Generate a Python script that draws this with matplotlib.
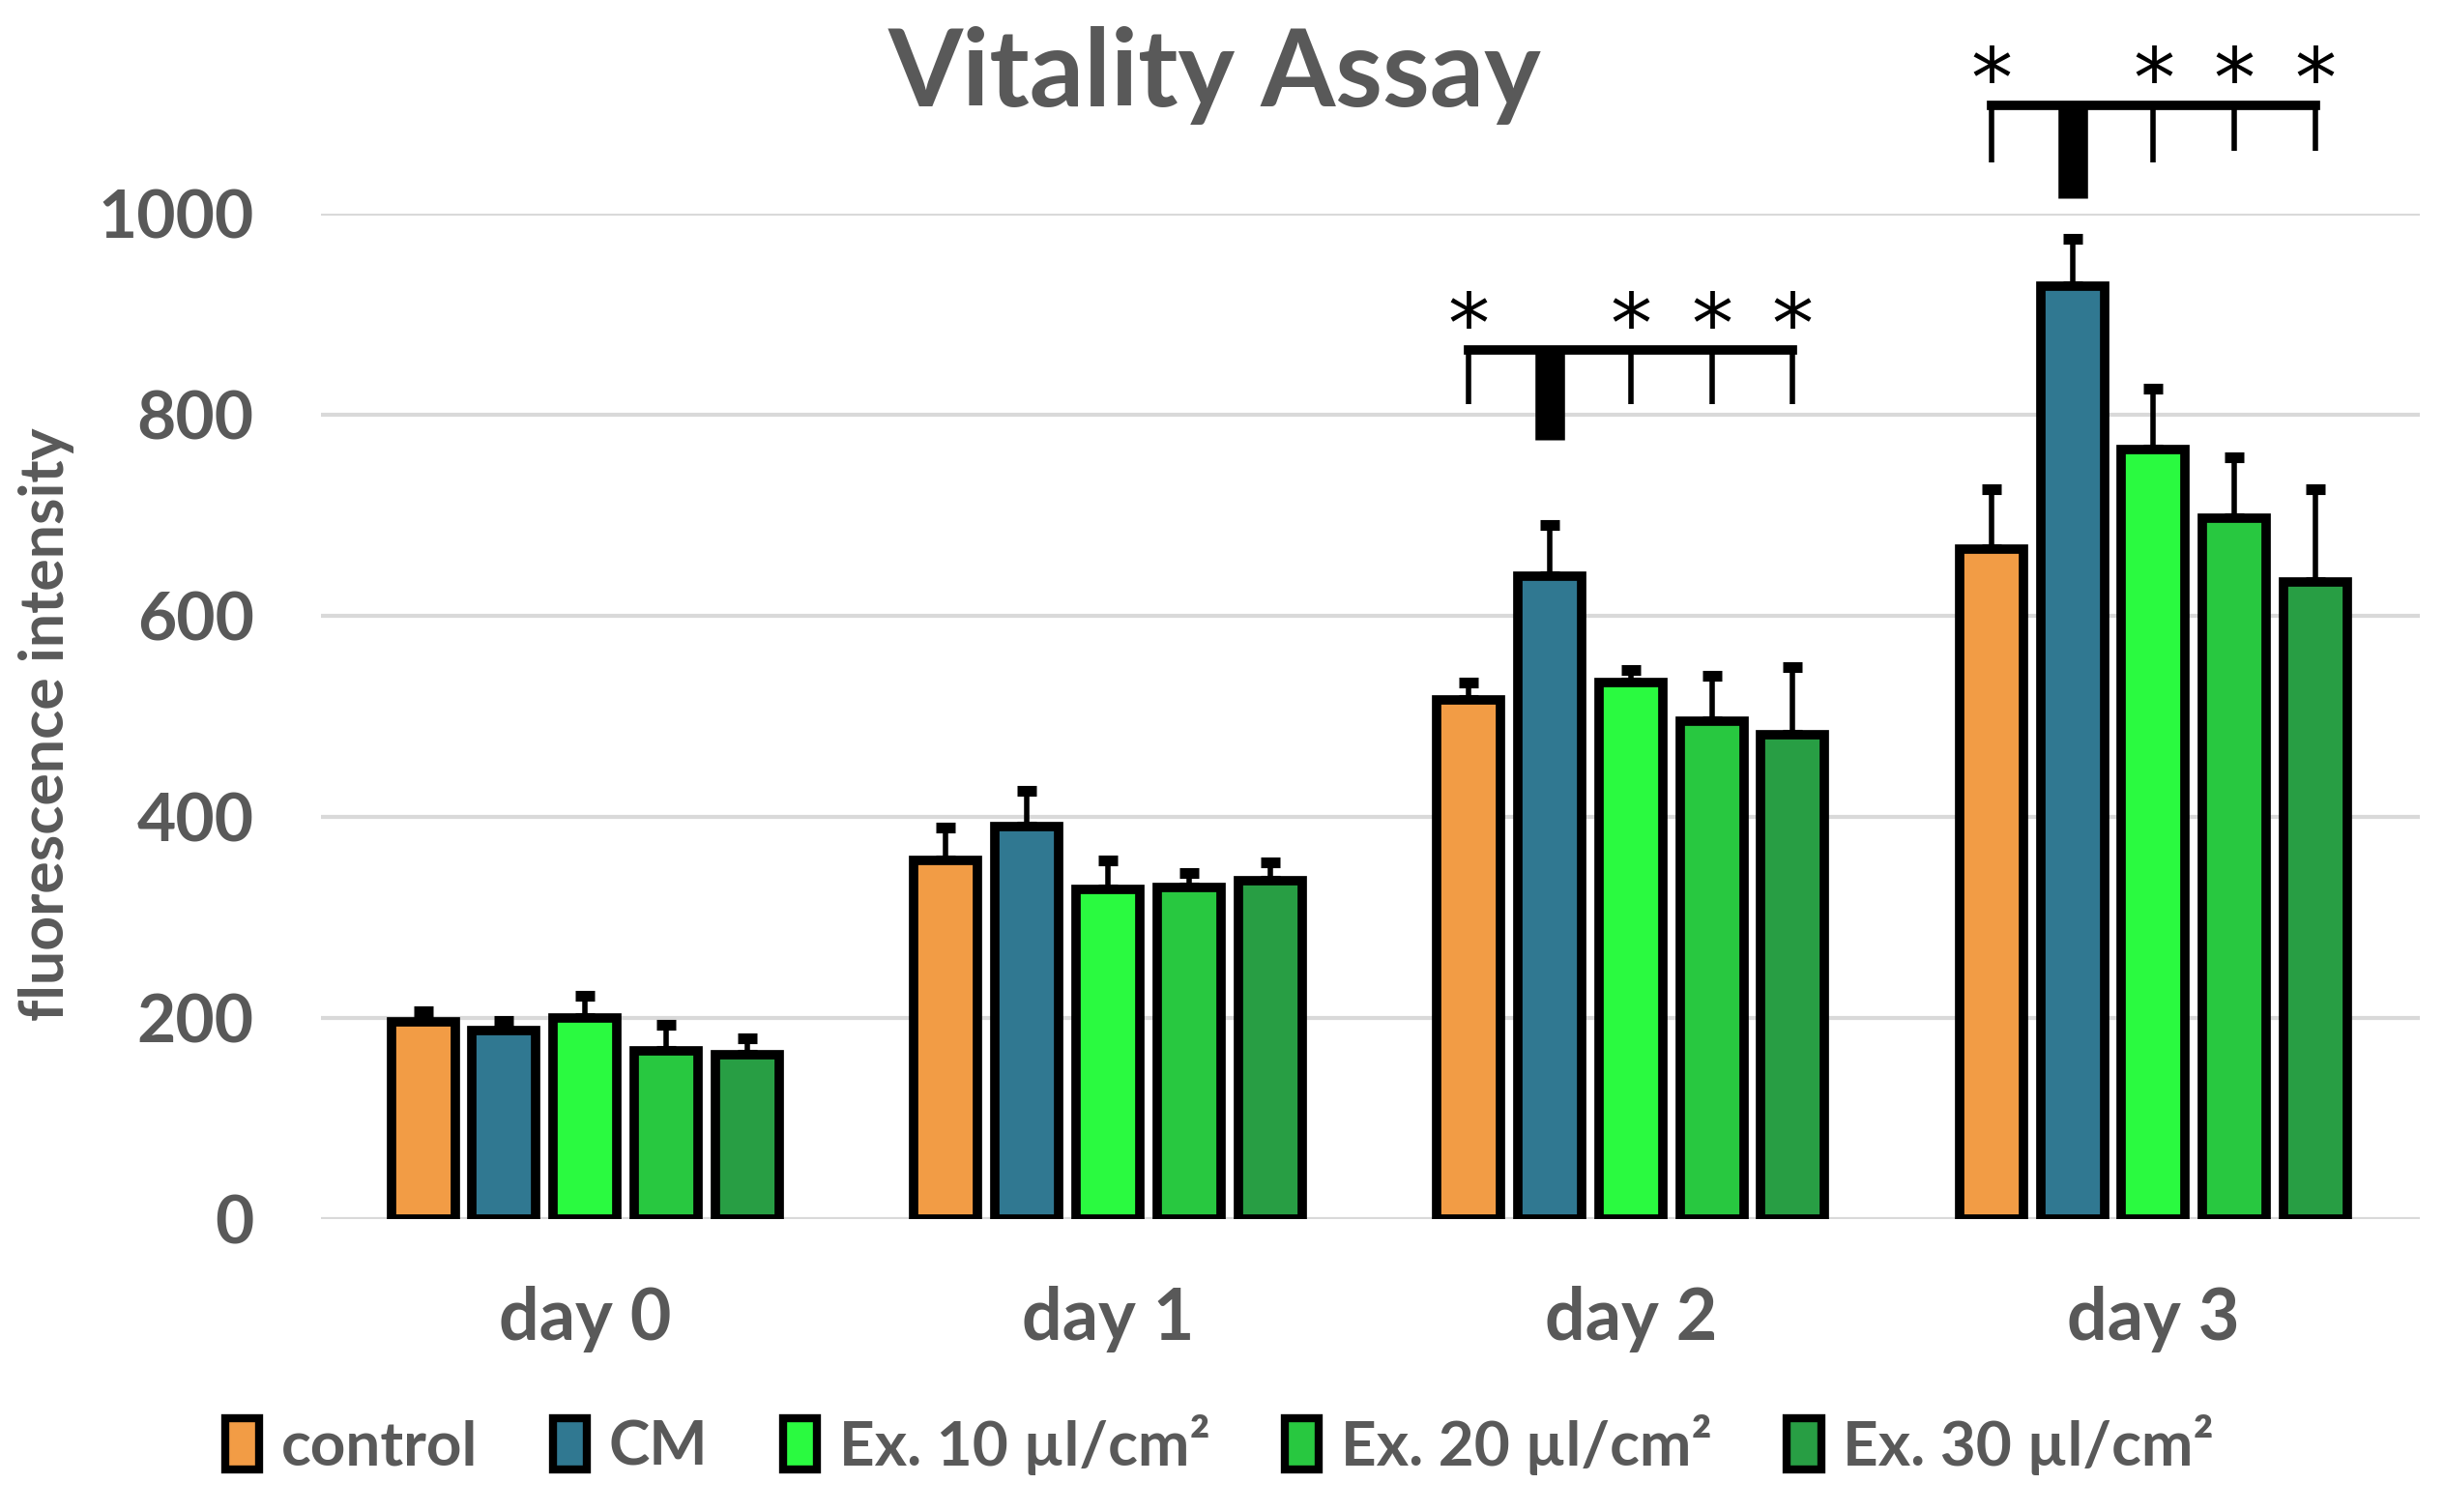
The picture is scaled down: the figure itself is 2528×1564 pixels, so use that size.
import matplotlib
matplotlib.use("Agg")
import matplotlib.pyplot as plt
from matplotlib.patches import Patch
import numpy as np

plt.rcParams['font.family'] = ['Lato', 'DejaVu Sans']

days = ['day 0', 'day 1', 'day 2', 'day 3']
series = ['control', 'CM', 'Ex. 10 µl/cm²', 'Ex. 20 µl/cm²', 'Ex. 30 µl/cm²']
colors = ['#F29C45', '#307891', '#2AFA40', '#28C840', '#289E44']

control = [196, 357, 516, 666]
cm = [187, 390, 639, 927]
ex10 = [200, 328, 533, 765]
ex20 = [167, 330, 495, 697]
ex30 = [163, 336, 482, 633]

control_err = [11, 32, 17, 60]
cm_err = [10, 36, 51, 48]
ex10_err = [22, 29, 13, 61]
ex20_err = [26, 14, 45, 60]
ex30_err = [17, 19, 67, 93]

values = [control, cm, ex10, ex20, ex30]
errors = [control_err, cm_err, ex10_err, ex20_err, ex30_err]

# significance brackets for day 2 and day 3 (CM vs the others)
sig_days = [2, 3]
sig_top = [864, 1107]
sig_tick_end = [[810, 810, 810, 810], [1050, 1050, 1062, 1062]]
sig_cm_end = [775, 1015]
sig_star = [884, 1128]

gray = '#595959'
pitch = 0.155
width = 0.122

fig = plt.figure(figsize=(25.28, 15.64), dpi=100)
ax = fig.add_axes([0.1314, 0.1937, 0.8588, 0.6653])

x = np.arange(len(days))
for i, (vals, errs) in enumerate(zip(values, errors)):
    pos = x + (i - 2) * pitch
    ax.bar(pos, vals, width=width, color=colors[i], edgecolor='black',
           linewidth=7, zorder=3, label=series[i])
    ax.errorbar(pos, vals, yerr=[np.zeros(len(errs)), errs], fmt='none',
                ecolor='black', elinewidth=4, capsize=7, capthick=8, zorder=2)

others = [0, 2, 3, 4]
for d, top, ends, cm_end, star in zip(sig_days, sig_top, sig_tick_end, sig_cm_end, sig_star):
    left = d + (0 - 2) * pitch
    right = d + (4 - 2) * pitch
    ax.plot([left, right], [top, top], color='black', lw=7, solid_capstyle='projecting',
            clip_on=False, zorder=4)
    for k, end in zip(others, ends):
        px = d + (k - 2) * pitch
        ax.plot([px, px], [top, end], color='black', lw=4, solid_capstyle='butt',
                clip_on=False, zorder=4)
        ax.text(px, star, '*', ha='center', va='center', fontsize=62,
                family='DejaVu Sans', color='black', clip_on=False)
    cx = d + (1 - 2) * pitch
    ax.plot([cx, cx], [top, cm_end], color='black', lw=22, solid_capstyle='butt',
            clip_on=False, zorder=4)

ax.set_xlim(-0.505, 3.51)
ax.set_ylim(0, 1000)
ax.set_yticks(range(0, 1001, 200))
ax.set_xticks(x)
ax.set_xticklabels(days)
ax.tick_params(axis='both', length=0, labelcolor=gray)
ax.tick_params(axis='y', pad=50, labelsize=50)
ax.tick_params(axis='x', pad=50, labelsize=53)
for lab in ax.get_xticklabels() + ax.get_yticklabels():
    lab.set_fontweight('bold')
ax.grid(axis='y', color='#D9D9D9', lw=3, zorder=0)
ax.set_axisbelow(True)
for s in ax.spines.values():
    s.set_visible(False)

fig.text(0.497, 0.950, 'Vitality Assay', ha='center', va='center', fontsize=80,
         fontweight='bold', color=gray)
fig.text(0.019, 0.521, 'fluorescence intensity', ha='center', va='center',
         rotation=90, fontsize=45, fontweight='bold', color=gray)

handles = [Patch(facecolor=c, edgecolor='black', linewidth=6) for c in colors]
leg = fig.legend(handles, series, loc='center', bbox_to_anchor=(0.499, 0.0446), ncol=5,
                 frameon=False, fontsize=46, handlelength=0.55, handleheight=0.9,
                 handletextpad=0.35, columnspacing=1.22)
for t in leg.get_texts():
    t.set_color(gray)
    t.set_fontweight('bold')

fig.savefig('out.png', dpi=100)
